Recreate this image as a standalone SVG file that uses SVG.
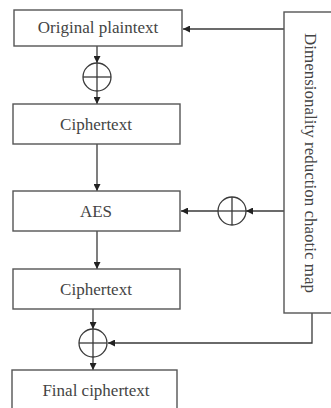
<svg xmlns="http://www.w3.org/2000/svg" width="331" height="408" viewBox="0 0 331 408">
<style>
.box{fill:#fff;stroke:#555;stroke-width:1.4}
.lbl{font-family:"Liberation Serif","Times New Roman",serif;font-size:17px;fill:#444;text-anchor:middle}
.ln{fill:none;stroke:#3a3a3a;stroke-width:1.3}
.xor{fill:none;stroke:#3a3a3a;stroke-width:1.3}
</style>
<defs>
<marker id="ah" viewBox="0 0 10 10" refX="10" refY="5" markerWidth="7" markerHeight="7" markerUnits="userSpaceOnUse" orient="auto">
<path d="M0,0 L10,5 L0,10 Z" fill="#222"/>
</marker>
</defs>
<g id="connectors">
<line class="ln" x1="284" y1="29" x2="183" y2="29" marker-end="url(#ah)"/>
<line class="ln" x1="97" y1="46" x2="97" y2="63" marker-end="url(#ah)"/>
<line class="ln" x1="97" y1="91" x2="97" y2="104" marker-end="url(#ah)"/>
<line class="ln" x1="97" y1="144" x2="97" y2="191" marker-end="url(#ah)"/>
<line class="ln" x1="284" y1="211" x2="246" y2="211" marker-end="url(#ah)"/>
<line class="ln" x1="218" y1="211" x2="181" y2="211" marker-end="url(#ah)"/>
<line class="ln" x1="97" y1="231" x2="97" y2="269" marker-end="url(#ah)"/>
<line class="ln" x1="93" y1="309" x2="93" y2="329" marker-end="url(#ah)"/>
<line class="ln" x1="93" y1="357" x2="93" y2="370" marker-end="url(#ah)"/>
<polyline class="ln" points="312,313 312,343 108,343" marker-end="url(#ah)"/>
</g>
<g id="xor1">
<circle class="xor" cx="97" cy="77" r="14"/>
<line class="xor" x1="83" y1="77" x2="111" y2="77"/>
<line class="xor" x1="97" y1="63" x2="97" y2="91"/>
</g>
<g id="xor2">
<circle class="xor" cx="232" cy="211" r="14"/>
<line class="xor" x1="218" y1="211" x2="246" y2="211"/>
<line class="xor" x1="232" y1="197" x2="232" y2="225"/>
</g>
<g id="xor3">
<circle class="xor" cx="93" cy="343" r="14"/>
<line class="xor" x1="79" y1="343" x2="107" y2="343"/>
<line class="xor" x1="93" y1="329" x2="93" y2="357"/>
</g>
<g id="original-plaintext">
<rect class="box" x="14" y="10" width="168" height="36"/>
<text class="lbl" x="98" y="33">Original plaintext</text>
</g>
<g id="ciphertext1">
<rect class="box" x="13" y="104" width="167" height="40"/>
<text class="lbl" x="96" y="130">Ciphertext</text>
</g>
<g id="aes">
<rect class="box" x="13" y="191" width="167" height="40"/>
<text class="lbl" x="96" y="217">AES</text>
</g>
<g id="ciphertext2">
<rect class="box" x="13" y="269" width="167" height="40"/>
<text class="lbl" x="96" y="295">Ciphertext</text>
</g>
<g id="final-ciphertext">
<rect class="box" x="12" y="370" width="165" height="42"/>
<text class="lbl" x="96" y="396">Final ciphertext</text>
</g>
<g id="chaotic-map">
<rect class="box" x="284" y="12" width="60" height="301"/>
<text class="lbl" transform="translate(305,163) rotate(90)" x="0" y="0">Dimensionality reduction chaotic map</text>
</g>
</svg>
